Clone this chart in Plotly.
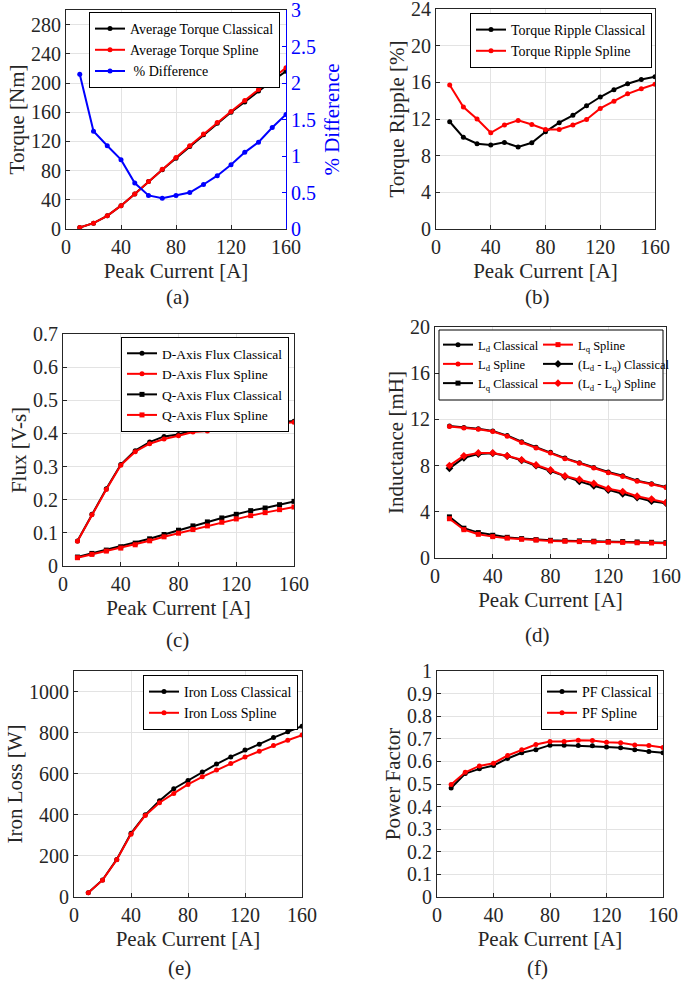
import plotly.graph_objects as go

current = [10, 20, 30, 40, 50, 60, 70, 80, 90, 100, 110, 120, 130, 140, 150, 160]

# (a) torque
torque_classical = [2, 8, 18, 32, 48, 65, 81, 97, 113, 129, 145, 160, 174, 189, 203, 216]
torque_spline = [2, 8, 18, 32, 48, 65, 82, 98, 114, 130, 146, 161, 176, 191, 206, 221]
torque_diff = [2.12, 1.34, 1.14, 0.95, 0.63, 0.46, 0.42, 0.46, 0.50, 0.61, 0.73, 0.88, 1.05, 1.19, 1.39, 1.57]

# (b) torque ripple
ripple_classical = [11.7, 10.0, 9.3, 9.16, 9.45, 8.95, 9.4, 10.6, 11.6, 12.4, 13.45, 14.4, 15.2, 15.85, 16.3, 16.6]
ripple_spline = [15.7, 13.3, 12.0, 10.5, 11.35, 11.85, 11.4, 10.85, 10.85, 11.35, 11.95, 13.15, 13.95, 14.75, 15.3, 15.8]

# (c) flux
dflux_classical = [0.0755, 0.156, 0.233, 0.306, 0.348, 0.374, 0.391, 0.397, 0.410, 0.417, 0.422, 0.424, 0.426, 0.431, 0.436, 0.437]
dflux_spline = [0.075, 0.155, 0.231, 0.304, 0.345, 0.369, 0.383, 0.393, 0.404, 0.407, 0.413, 0.421, 0.424, 0.429, 0.430, 0.434]
qflux_classical = [0.027, 0.038, 0.048, 0.058, 0.069, 0.082, 0.095, 0.108, 0.121, 0.133, 0.145, 0.156, 0.167, 0.175, 0.185, 0.195]
qflux_spline = [0.025, 0.035, 0.045, 0.054, 0.064, 0.076, 0.088, 0.099, 0.110, 0.121, 0.132, 0.142, 0.152, 0.161, 0.170, 0.178]

# (d) inductance
ld_classical = [11.43, 11.3, 11.2, 11.0, 10.6, 10.07, 9.58, 9.15, 8.65, 8.25, 7.84, 7.44, 7.12, 6.7, 6.42, 6.14]
ld_spline = [11.38, 11.25, 11.15, 10.95, 10.55, 10.0, 9.52, 9.1, 8.6, 8.2, 7.8, 7.38, 7.06, 6.65, 6.38, 6.1]
lq_classical = [3.56, 2.58, 2.2, 1.97, 1.79, 1.68, 1.59, 1.53, 1.5, 1.48, 1.45, 1.42, 1.42, 1.39, 1.36, 1.33]
lq_spline = [3.4, 2.45, 2.05, 1.85, 1.72, 1.62, 1.55, 1.48, 1.45, 1.42, 1.4, 1.37, 1.35, 1.32, 1.3, 1.27]
ldq_classical = [7.76, 8.68, 9.0, 9.06, 8.83, 8.45, 7.99, 7.53, 7.03, 6.63, 6.25, 5.88, 5.56, 5.24, 4.92, 4.75]
ldq_spline = [8.0, 8.85, 9.1, 9.1, 8.85, 8.5, 8.05, 7.62, 7.1, 6.8, 6.45, 6.0, 5.75, 5.35, 5.1, 4.8]

# (e) iron loss
iron_classical = [21, 83, 183, 310, 400, 468, 527, 567, 609, 647, 682, 715, 744, 776, 804, 831]
iron_spline = [21, 82, 181, 306, 397, 459, 504, 548, 585, 618, 650, 681, 709, 737, 763, 788]

# (f) power factor
pf_classical = [0.482, 0.546, 0.567, 0.582, 0.613, 0.638, 0.652, 0.672, 0.672, 0.670, 0.669, 0.664, 0.660, 0.651, 0.644, 0.638]
pf_spline = [0.498, 0.552, 0.580, 0.592, 0.626, 0.652, 0.675, 0.688, 0.688, 0.694, 0.692, 0.685, 0.682, 0.673, 0.670, 0.661]

# tick labels
x_ticks = [0, 40, 80, 120, 160]
torque_ticks = [0, 40, 80, 120, 160, 200, 240, 280]
diff_ticks = [0, 0.5, 1, 1.5, 2, 2.5, 3]
ripple_ticks = [0, 4, 8, 12, 16, 20, 24]
flux_ticks = [0, 0.1, 0.2, 0.3, 0.4, 0.5, 0.6, 0.7]
ind_ticks = [0, 4, 8, 12, 16, 20]
iron_ticks = [0, 200, 400, 600, 800, 1000]
pf_ticks = [0, 0.1, 0.2, 0.3, 0.4, 0.5, 0.6, 0.7, 0.8, 0.9, 1]

W, H = 681, 982
FONT = "Liberation Serif"
TXT = "#262626"
BLACK, RED, BLUE = "#000000", "#ff0000", "#0000ff"


def px_x(p):
    return p / W


def px_y(p):
    return 1 - p / H


fig = go.Figure()


def add(x, y, name, color, xa, ya, legend, symbol="circle", msize=5):
    fig.add_trace(go.Scatter(
        x=x, y=y, name=name, mode="lines+markers",
        line=dict(color=color, width=2),
        marker=dict(color=color, size=msize, symbol=symbol),
        xaxis=xa, yaxis=ya, legend=legend))


add(current, torque_classical, "Average Torque Classical", BLACK, "x", "y", "legend")
add(current, torque_spline, "Average Torque Spline", RED, "x", "y", "legend")
add(current, torque_diff, " % Difference", BLUE, "x", "y7", "legend")

add(current, ripple_classical, "Torque Ripple Classical", BLACK, "x2", "y2", "legend2")
add(current, ripple_spline, "Torque Ripple Spline", RED, "x2", "y2", "legend2")

add(current, dflux_classical, "D-Axis Flux Classical", BLACK, "x3", "y3", "legend3")
add(current, dflux_spline, "D-Axis Flux Spline", RED, "x3", "y3", "legend3")
add(current, qflux_classical, "Q-Axis Flux Classical", BLACK, "x3", "y3", "legend3", "square")
add(current, qflux_spline, "Q-Axis Flux Spline", RED, "x3", "y3", "legend3", "square")

add(current, ld_classical, "L<sub>d</sub> Classical", BLACK, "x4", "y4", "legend4")
add(current, ld_spline, "L<sub>d</sub> Spline", RED, "x4", "y4", "legend4")
add(current, lq_classical, "L<sub>q</sub> Classical", BLACK, "x4", "y4", "legend4", "square")
add(current, lq_spline, "L<sub>q</sub> Spline", RED, "x4", "y4", "legend7", "square")
add(current, ldq_classical, "(L<sub>d</sub> - L<sub>q</sub>) Classical", BLACK, "x4", "y4", "legend7", "diamond", 6)
add(current, ldq_spline, "(L<sub>d</sub> - L<sub>q</sub>) Spline", RED, "x4", "y4", "legend7", "diamond", 6)

add(current, iron_classical, "Iron Loss Classical", BLACK, "x5", "y5", "legend5")
add(current, iron_spline, "Iron Loss Spline", RED, "x5", "y5", "legend5")

add(current, pf_classical, "PF Classical", BLACK, "x6", "y6", "legend6")
add(current, pf_spline, "PF Spline", RED, "x6", "y6", "legend6")

# panel pixel boxes: (left, right, top, bottom)
boxes = {
    1: (66, 286, 10, 229),
    2: (436, 655, 9, 229),
    3: (63, 294, 334, 566),
    4: (435, 666, 327, 558),
    5: (74, 302, 671, 897),
    6: (437, 663, 671, 897),
}
yinfo = {
    1: ("Torque [Nm]", [0, 300], torque_ticks),
    2: ("Torque Ripple [%]", [0, 24], ripple_ticks),
    3: ("Flux [V-s]", [0, 0.7], flux_ticks),
    4: ("Inductance [mH]", [0, 20], ind_ticks),
    5: ("Iron Loss [W]", [0, 1100], iron_ticks),
    6: ("Power Factor", [0, 1], pf_ticks),
}

TICKSIZE = 20
TITLESIZE = 21

axis_common = dict(
    showline=True, linecolor=TXT, linewidth=1, ticks="inside", ticklen=4,
    tickcolor=TXT, showgrid=True, gridcolor="#e3e3e3", gridwidth=1, zeroline=False,
    tickfont=dict(family=FONT, size=TICKSIZE, color=TXT), automargin=False,
    ticklabeloverflow="allow",
)

layout = dict(
    width=W, height=H, margin=dict(l=0, r=0, t=0, b=0, autoexpand=False),
    paper_bgcolor="white", plot_bgcolor="white",
    font=dict(family=FONT, color=TXT),
    showlegend=True,
)

for i, (l, r, t, b) in boxes.items():
    sx = "" if i == 1 else str(i)
    title, rng, tv = yinfo[i]
    layout["xaxis" + sx] = dict(
        axis_common, domain=[px_x(l), px_x(r)], anchor="y" + sx, range=[0, 160],
        tickmode="array", tickvals=x_ticks, mirror=True,
        title=dict(text="Peak Current [A]", font=dict(family=FONT, size=TITLESIZE, color=TXT), standoff=6),
    )
    layout["yaxis" + sx] = dict(
        axis_common, domain=[px_y(b), px_y(t)], anchor="x" + sx, range=rng,
        tickmode="array", tickvals=tv, mirror=(i != 1),
        title=dict(text=title, font=dict(family=FONT, size=TITLESIZE, color=TXT), standoff=0),
    )

layout["yaxis7"] = dict(
    overlaying="y", anchor="x", side="right", range=[0, 3],
    tickmode="array", tickvals=diff_ticks, ticklabeloverflow="allow",
    showline=True, linecolor=BLUE, linewidth=1, ticks="inside", ticklen=4, tickcolor=BLUE,
    showgrid=False, zeroline=False, automargin=False,
    tickfont=dict(family=FONT, size=TICKSIZE, color=BLUE),
    title=dict(text="% Difference", font=dict(family=FONT, size=TITLESIZE, color=BLUE), standoff=9),
)

leg_common = dict(
    bgcolor="white", bordercolor=BLACK, borderwidth=1,
    font=dict(family=FONT, size=14, color=BLACK),
    xanchor="right", yanchor="top", itemwidth=30, tracegroupgap=0,
)
layout["legend"] = dict(leg_common, x=px_x(280), y=px_y(12))
layout["legend2"] = dict(leg_common, x=px_x(652), y=px_y(13))
layout["legend3"] = dict(leg_common, font=dict(family=FONT, size=13.5, color=BLACK), x=px_x(289), y=px_y(337))
layout["legend5"] = dict(leg_common, x=px_x(298), y=px_y(675))
layout["legend6"] = dict(leg_common, x=px_x(658), y=px_y(675))
leg_d = dict(leg_common, borderwidth=0, bgcolor="rgba(255,255,255,0)", xanchor="left",
             font=dict(family=FONT, size=12.5, color=BLACK))
layout["legend4"] = dict(leg_d, x=px_x(438), y=px_y(330))
layout["legend7"] = dict(leg_d, x=px_x(538), y=px_y(330))

layout["shapes"] = [dict(
    type="rect", xref="paper", yref="paper",
    x0=px_x(439), x1=px_x(663), y0=px_y(400), y1=px_y(330),
    line=dict(color=BLACK, width=1), fillcolor="white", layer="above",
)]

labels = [("(a)", 178, 297), ("(b)", 537, 297), ("(c)", 178, 640),
          ("(d)", 537, 635), ("(e)", 179, 968), ("(f)", 537, 968)]
layout["annotations"] = [
    dict(text=t, x=px_x(x), y=px_y(y), xref="paper", yref="paper", showarrow=False,
         xanchor="center", yanchor="middle", font=dict(family=FONT, size=TITLESIZE, color=TXT))
    for t, x, y in labels
]

fig.update_layout(**layout)
fig.write_html(
    "out.html",
    config={"displayModeBar": False},
    post_script="document.body.style.margin='0';document.body.style.padding='0';"
                "document.documentElement.style.overflow='hidden';",
)
